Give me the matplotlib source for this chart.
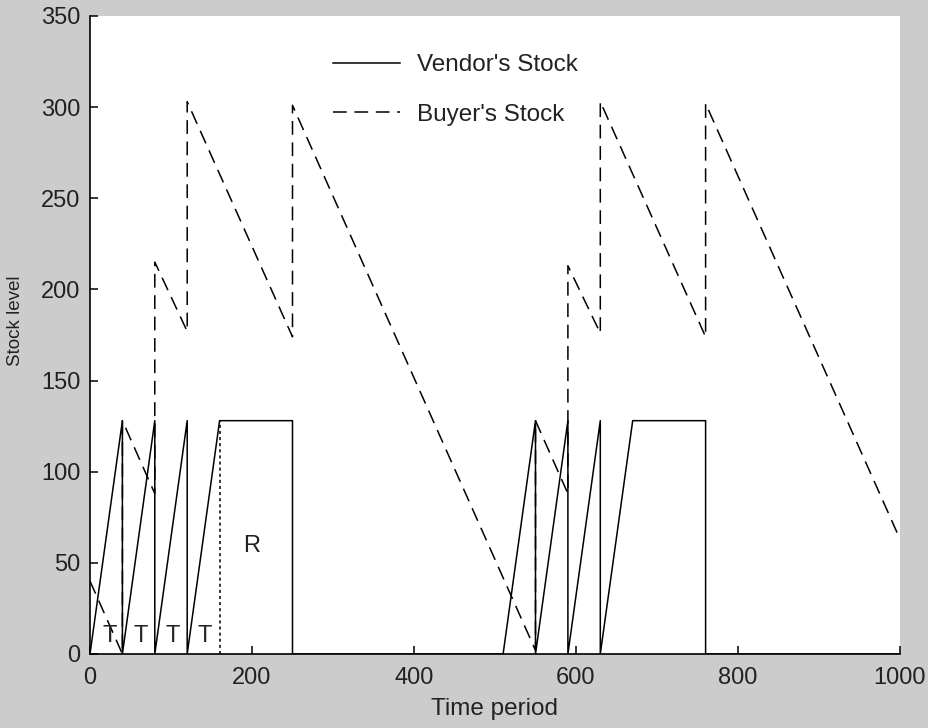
import numpy as np
import matplotlib
matplotlib.use("Agg")
import matplotlib.pyplot as plt

plt.rcParams['font.family'] = ['Liberation Sans', 'DejaVu Sans']

# vendor's stock (solid line)
vendor_t = [0, 40, 40, 80, 80, 120, 120, 160, 250, 250,
            510, 550, 550, 590, 590, 630, 630, 670, 760, 760, 1000]
vendor_v = [0, 128, 0, 128, 0, 128, 0, 128, 128, 0,
            0, 128, 0, 128, 0, 128, 0, 128, 128, 0, 0]

# buyer's stock (dashed line)
buyer_t = [0, 40, 40, 80, 80, 120, 120, 250, 250,
           550, 550, 590, 590, 630, 630, 760, 760, 1000]
buyer_v = [40, 0, 128, 88, 215, 177, 303, 174, 301,
           2, 128, 88, 213, 176, 303, 174, 302, 63]

# dotted separator between T periods and R
sep_t = [160, 160]
sep_v = [0, 128]

t_labels = ["T", "T", "T", "T"]
t_label_x = [24, 63, 102, 141]
t_label_y = 10
r_label = "R"
r_label_x, r_label_y = 200, 59

xticks = [0, 200, 400, 600, 800, 1000]
yticks = [0, 50, 100, 150, 200, 250, 300, 350]

fig = plt.figure(figsize=(9.29, 7.28), dpi=100, facecolor='#cccccc')
ax = fig.add_axes([90 / 929, 1 - 654 / 728, 810 / 929, 638 / 728])
ax.set_facecolor('white')

ax.plot(vendor_t, vendor_v, color='black', lw=1.1, label="Vendor's Stock")
ax.plot(buyer_t, buyer_v, color='black', lw=1.1, dashes=(9, 5), label="Buyer's Stock")
ax.plot(sep_t, sep_v, color='black', lw=1.1, linestyle=(0, (2, 2)))

for lab, x in zip(t_labels, t_label_x):
  ax.text(x, t_label_y, lab, fontsize=17, ha='center', va='center', color='#222222')
ax.text(r_label_x, r_label_y, r_label, fontsize=17, ha='center', va='center', color='#222222')

ax.set_xlim(0, 1000)
ax.set_ylim(0, 350)
ax.set_xticks(xticks)
ax.set_yticks(yticks)
ax.tick_params(direction='in', length=6, width=1.1, labelsize=17, colors='black',
               labelcolor='#222222')
ax.tick_params(axis='x', pad=9)
ax.tick_params(axis='y', pad=7)
for s in ['top', 'right']:
  ax.spines[s].set_visible(False)
for s in ['left', 'bottom']:
  ax.spines[s].set_linewidth(1.2)

ax.set_xlabel("Time period", fontsize=17.5, labelpad=7, color='#222222')
ax.set_ylabel("Stock level", fontsize=13.5, color='#222222')
ax.yaxis.set_label_coords(-0.081, 0.523)

leg = ax.legend(loc='upper left', bbox_to_anchor=(0.30, 0.94), frameon=False,
                fontsize=17.5, handlelength=2.75, handletextpad=0.7,
                labelspacing=1.12, borderpad=0, borderaxespad=0)
for txt in leg.get_texts():
  txt.set_color('#222222')

fig.savefig("out.png", dpi=100, facecolor=fig.get_facecolor())
